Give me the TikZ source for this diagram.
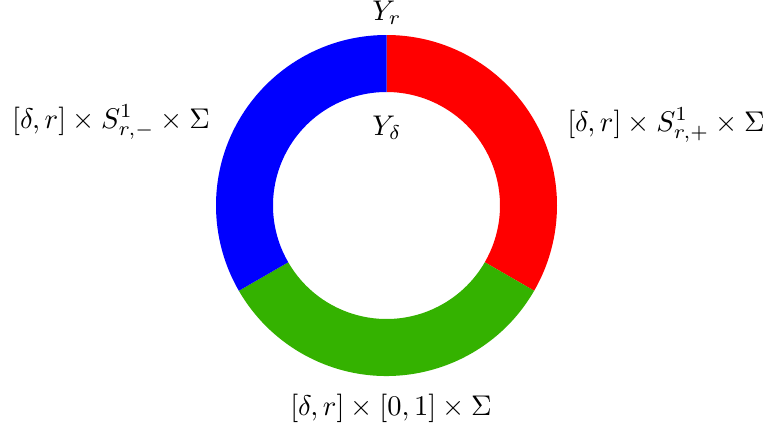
\documentclass[tikz,border=0pt]{standalone}
\usepackage{graphicx}
\usetikzlibrary{calc}
\definecolor{ringgreen}{RGB}{52,178,0}
\newcommand{\lbl}[1]{\scalebox{1.096}{#1}}
\begin{document}
\begin{tikzpicture}[x=0.385pt,y=0.385pt,
  lab/.style={inner sep=0pt,anchor=center}]
\useasboundingbox (0,0) rectangle (767,-430);
\def\Ro{170.5}
\def\Ri{113.5}
\coordinate (c) at (386.5,-205.5);
\fill[red] ($(c)+(90:\Ro)$) arc[start angle=90,end angle=-30,radius=\Ro]
  -- ($(c)+(-30:\Ri)$) arc[start angle=-30,end angle=90,radius=\Ri] -- cycle;
\fill[ringgreen] ($(c)+(-30:\Ro)$) arc[start angle=-30,end angle=-150,radius=\Ro]
  -- ($(c)+(-150:\Ri)$) arc[start angle=-150,end angle=-30,radius=\Ri] -- cycle;
\fill[blue] ($(c)+(90:\Ro)$) arc[start angle=90,end angle=210,radius=\Ro]
  -- ($(c)+(210:\Ri)$) arc[start angle=210,end angle=90,radius=\Ri] -- cycle;
\node[lab] (yr) at (387,-13) {\lbl{$Y_r$}};
\node[lab] (yd) at (387,-128) {\lbl{$Y_\delta$}};
\node[lab] (lp) at (666,-125) {\lbl{$[\delta,r]\times S^1_{r,+}\times\Sigma$}};
\node[lab] (lm) at (111,-122) {\lbl{$[\delta,r]\times S^1_{r,-}\times\Sigma$}};
\node[lab] (lb) at (391,-408) {\lbl{$[\delta,r]\times[0,1]\times\Sigma$}};
\end{tikzpicture}
\end{document}
